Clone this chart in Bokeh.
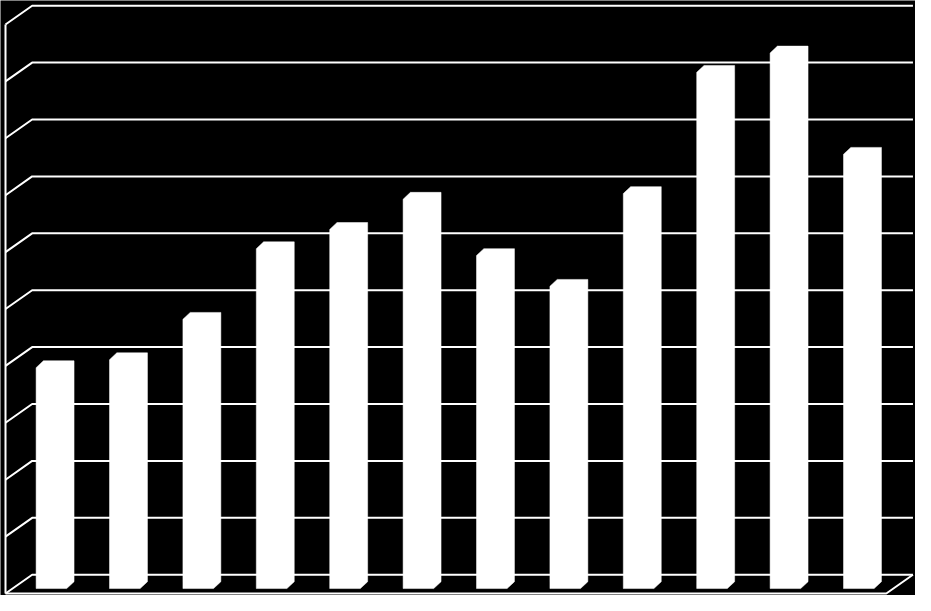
from bokeh.plotting import figure
from bokeh.models import ColumnDataSource, Range1d
from bokeh.embed import file_html
from bokeh.resources import INLINE

# ---- data (values read against the back-wall gridlines, 0..10 scale) ----
categories = ["1", "2", "3", "4", "5", "6", "7", "8", "9", "10", "11", "12"]
values = [3.76, 3.90, 4.61, 5.85, 6.19, 6.72, 5.73, 5.19, 6.82, 8.95, 9.29, 7.51]
grid_ticks = [0, 1, 2, 3, 4, 5, 6, 7, 8, 9, 10]

# ---- 3D projection styling (oblique view) ----
FLOOR_DX = 0.363   # depth offset of the floor/back wall, in category units
FLOOR_DY = 0.33    # depth offset of the floor/back wall, in value units
BAR_X0 = 0.417     # front-left corner of a bar inside its category
BAR_W = 0.417      # width of a bar's front face
BAR_Y0 = 0.087     # front bottom of the bars (they stand inside the floor)
BAR_DX = 0.10      # depth of a bar (x)
BAR_DY = 0.121     # depth of a bar (y)

n = len(categories)
PX_X = 73.4
PX_Y = 56.9
W, H = 915, 595
x0 = -5.0 / PX_X
y0 = -2.0 / PX_Y

p = figure(width=W, height=H, output_backend="svg", toolbar_location=None,
           x_range=Range1d(x0, x0 + W / PX_X), y_range=Range1d(y0, y0 + H / PX_Y),
           x_axis_type=None, y_axis_type=None, min_border=0,
           background_fill_color="black", border_fill_color="black",
           outline_line_color=None)
p.xgrid.visible = False
p.ygrid.visible = False

# gridlines on left wall (diagonal) and back wall (horizontal)
gx, gy = [], []
for g in grid_ticks:
    gx.append([0, FLOOR_DX, n + FLOOR_DX])
    gy.append([g, g + FLOOR_DY, g + FLOOR_DY])
p.multi_line(gx, gy, line_color="white", line_width=2)

# left wall front edge and floor front/right edge
top = grid_ticks[-1]
p.line([0, 0], [0, top], line_color="white", line_width=2)
p.line([0, n, n + FLOOR_DX], [0, 0, FLOOR_DY], line_color="white", line_width=2)

# bars as 3D prisms (silhouette)
xs, ys = [], []
for i, v in enumerate(values):
    xl = i + BAR_X0
    xr = xl + BAR_W
    tb = v + FLOOR_DY
    xs.append([xl, xr, xr + BAR_DX, xr + BAR_DX, xl + BAR_DX, xl])
    ys.append([BAR_Y0, BAR_Y0, BAR_Y0 + BAR_DY, tb, tb, tb - BAR_DY])
src = ColumnDataSource(dict(xs=xs, ys=ys, cat=categories, val=values))
p.patches("xs", "ys", source=src, fill_color="white", line_color="white", line_width=0.5)

open("out.html", "w").write(file_html(p, INLINE))
